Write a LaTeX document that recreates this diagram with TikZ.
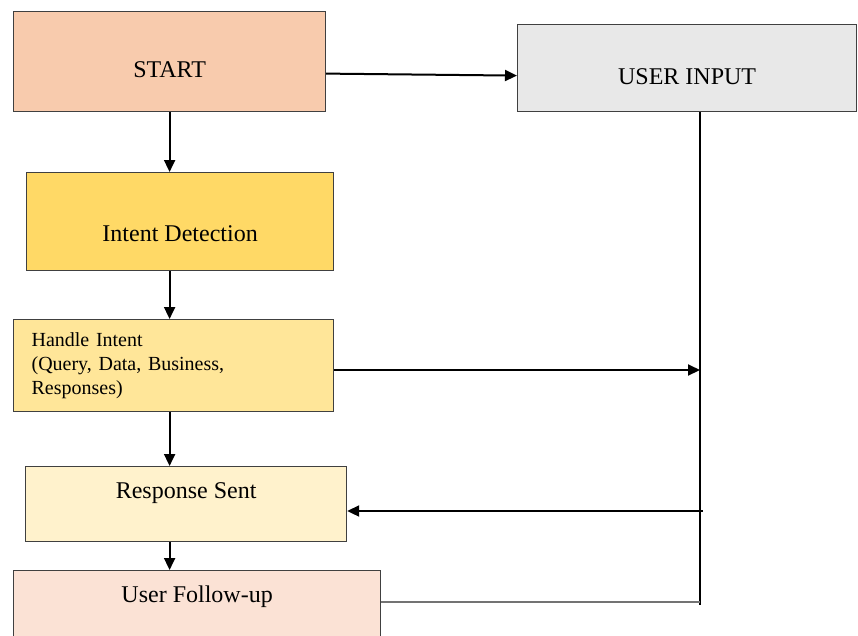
\documentclass[tikz,border=0pt]{standalone}
\usepackage{fontspec}
\setmainfont{Liberation Serif}
\usepackage{xcolor}
\usetikzlibrary{arrows.meta, positioning, calc}

\definecolor{startfill}{HTML}{F8CBAD}
\definecolor{inputfill}{HTML}{E8E8E8}
\definecolor{intentfill}{HTML}{FFD966}
\definecolor{handlefill}{HTML}{FFE699}
\definecolor{respfill}{HTML}{FFF2CC}
\definecolor{followfill}{HTML}{FBE2D5}

\begin{document}
\begin{tikzpicture}[
  x=1pt, y=-1pt,
  box/.style  = {draw=black!75, line width=1.2pt, anchor=north west, inner sep=0pt,
                 font=\fontsize{24}{28}\selectfont},
  arr/.style  = {-{Triangle[length=12pt, width=11pt]}, line width=2pt},
  link/.style = {line width=1.8pt},
]
\clip (0,0) rectangle (858,635);

% ── Left column of boxes ─────────────────────────────────────────────────────
\node[box, fill=startfill, minimum width=312pt, minimum height=100pt,
      text height=32pt, text depth=0pt]  (start)  at (13,11)  {START};
\node[box, fill=intentfill, minimum width=307pt, minimum height=98pt,
      text height=40pt, text depth=0pt]  (intent) at (26,172) {Intent Detection};
\node[box, fill=handlefill, minimum width=320pt, minimum height=92pt,
      align=left, text width=284pt, inner xsep=18pt,
      font=\fontsize{20}{24}\selectfont\frenchspacing] (handle) at (13,319)
      {Handle Intent\\(Query, Data, Business,\\Responses)};
\node[box, fill=respfill, minimum width=321pt, minimum height=75pt,
      text height=18pt, text depth=30pt] (resp)   at (25,466) {Response Sent};
\node[box, fill=followfill, minimum width=367pt, minimum height=90pt,
      text height=18pt, text depth=44pt] (follow) at (13,570) {User Follow-up};

% ── User input box and its return line ───────────────────────────────────────
\node[box, fill=inputfill, minimum width=339pt, minimum height=87pt,
      text height=33pt, text depth=0pt]  (ui)     at (517,24) {USER INPUT};

\coordinate (hjoin) at (700,370);
\coordinate (rjoin) at (703,511);
\coordinate (fjoin) at (700,602);
\coordinate (uibot) at (700,605);

\draw[arr] ([yshift=-12pt]start.east) -- ([yshift=-7.5pt]ui.west);

\foreach \a/\b in {start/intent, intent/handle, handle/resp, resp/follow}
  \draw[arr] (start.south |- \a.south) -- (start.south |- \b.north);

\draw[link] (ui.south -| uibot) -- (uibot);
\draw[arr]  (handle.east |- hjoin) -- (hjoin);
\draw[arr]  (rjoin) -- (resp.east |- rjoin);
\draw[link, draw=black!55] (follow.east |- fjoin) -- (fjoin);
\end{tikzpicture}
\end{document}
